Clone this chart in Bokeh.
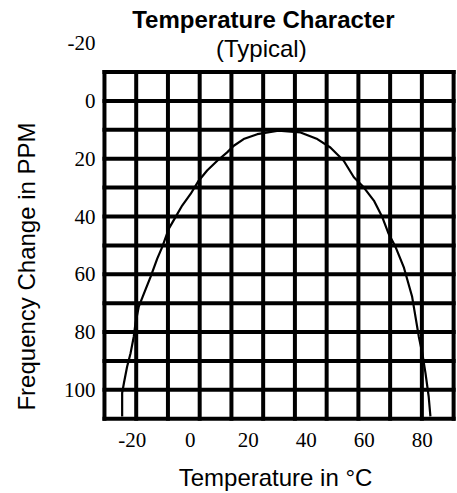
import numpy as np
from bokeh.plotting import figure
from bokeh.models import Range1d, Label
from bokeh.core.properties import value
from bokeh.embed import file_html
from bokeh.resources import INLINE

# ---- data ----
temp_c = [-23.5, -23.5, -22.9, -21.8, -20.6, -19.5, -18.9, -17.8, -16.0, -13.7,
          -11.4, -9.7, -7.4, -5.1, -2.8, 0.1, 2.9, 5.8, 9.3, 12.7, 15.0, 18.4,
          23.1, 30.4, 38.0, 43.8, 48.3, 52.9, 56.4, 59.8, 63.3, 66.2, 68.4,
          70.8, 73.6, 76.5, 78.8, 80.0, 81.1, 82.2, 82.8]
freq_ppm = [109.2, 101.1, 97.7, 92.0, 87.3, 81.6, 77.0, 71.3, 66.7, 60.9,
            54.6, 50.6, 44.2, 40.2, 36.2, 32.2, 27.6, 24.1, 20.7, 17.8, 15.5, 13.2,
            11.5, 10.3, 10.9, 13.2, 16.1, 20.7, 26.4, 29.9, 34.5, 40.2, 46.0,
            50.6, 57.5, 67.8, 81.6, 87.3, 94.2, 102.3, 109.2]
x_ticks = [-20, 0, 20, 40, 60, 80]
y_ticks = [-20, 0, 20, 40, 60, 80, 100]
x_tick_labels = [str(t) for t in x_ticks]
y_tick_labels = [str(t) for t in y_ticks]
title_text = "Temperature Character"
subtitle_text = "(Typical)"
x_label = "Temperature in °C"
y_label = "Frequency Change in PPM"

# grid frame (chart structure)
grid_x0, grid_x1, n_cols = -29.6, 90.8, 11
grid_y0, grid_y1, n_rows = -10, 110, 12

p = figure(width=457, height=493, output_backend="svg", toolbar_location=None,
           x_range=Range1d(-65.45, 92.14), y_range=Range1d(135.88, -34.77),
           x_axis_location=None, y_axis_location=None,
           min_border=0)
p.outline_line_color = None
p.xgrid.visible = False
p.ygrid.visible = False
p.background_fill_color = "white"
p.border_fill_color = "white"

gx = np.linspace(grid_x0, grid_x1, n_cols + 1)
gy = np.linspace(grid_y0, grid_y1, n_rows + 1)
p.segment(x0=gx, y0=[grid_y0] * len(gx), x1=gx, y1=[grid_y1] * len(gx),
          line_color="black", line_width=4, line_cap="square")
p.segment(x0=[grid_x0] * len(gy), y0=gy, x1=[grid_x1] * len(gy), y1=gy,
          line_color="black", line_width=4, line_cap="square")

p.line(temp_c, freq_ppm, line_color="black", line_width=2.2)

# tick labels
p.text(x=[grid_x0] * len(y_ticks), y=y_ticks, text=y_tick_labels,
       x_offset=-9, text_align="right", text_baseline="middle",
       text_font=value("Liberation Serif"), text_font_size=value("21px"),
       text_color="black")
p.text(x=x_ticks, y=[grid_y1] * len(x_ticks), text=x_tick_labels,
       y_offset=21, text_align="center", text_baseline="middle",
       text_font=value("Liberation Serif"), text_font_size=value("21px"),
       text_color="black")

label_style = dict(text_align="center", text_baseline="middle",
                   text_font="Liberation Sans", text_font_size="24px",
                   text_color="black")
p.add_layout(Label(x=25.2, y=-28.3, text=title_text, text_font_style="bold",
                   **label_style))
p.add_layout(Label(x=24.5, y=-18.3, text=subtitle_text, **label_style))
p.add_layout(Label(x=29.4, y=130.3, text=x_label, **label_style))
p.add_layout(Label(x=-56.5, y=57.3, text=y_label, angle=np.pi / 2,
                   **label_style))

open("out.html", "w").write(file_html(p, INLINE))
